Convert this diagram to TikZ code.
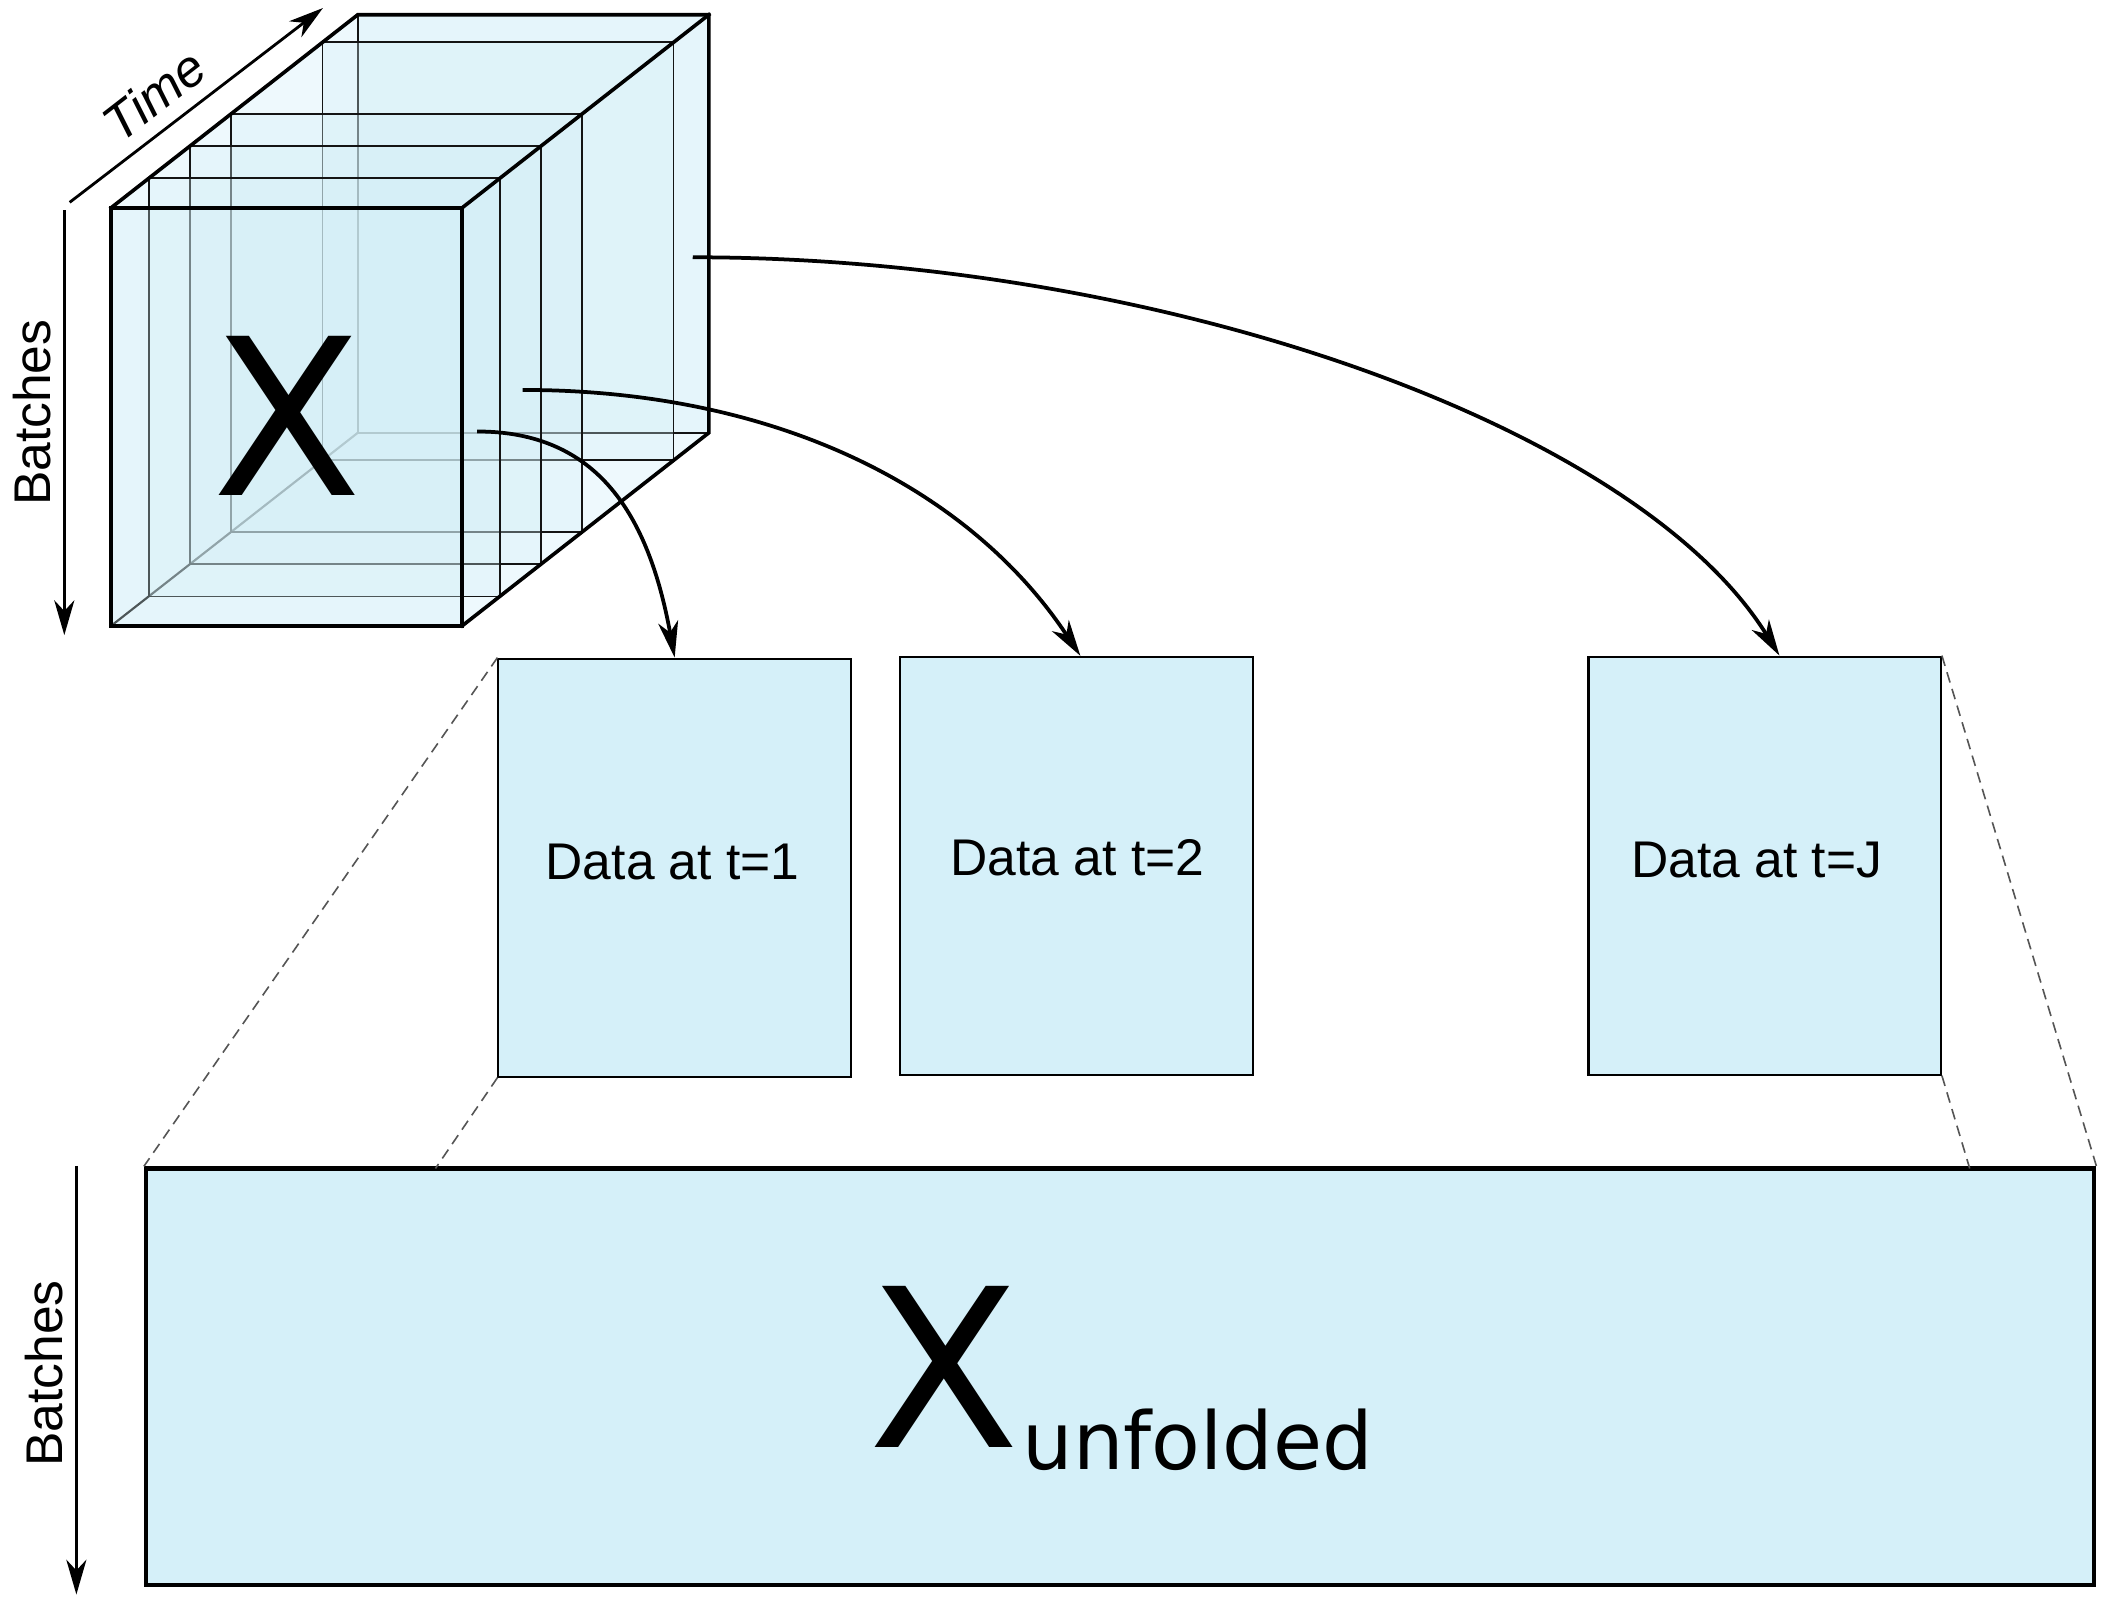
\documentclass[tikz,border=0pt]{standalone}
\usepackage{fontspec}
\setmainfont{Liberation Sans}
\newfontfamily\dejavu{DejaVu Sans}
\usetikzlibrary{arrows.meta}
\definecolor{boxblue}{RGB}{213,240,249}
\definecolor{hullblue}{RGB}{238,249,253}
\definecolor{layerblue}{RGB}{211,239,247}
\definecolor{dashgray}{RGB}{85,85,85}
\definecolor{edgedark}{RGB}{20,20,20}
\begin{document}
\begin{tikzpicture}[x=1pt,y=-1pt,
  lbl/.style={font=\fontsize{38.5}{46}\selectfont, inner sep=0pt},
  databox/.style={draw=black, line width=1.5pt, fill=boxblue, minimum width=263pt, minimum height=312pt, inner sep=0pt},
  bigbox/.style={draw=black, line width=3.2pt, fill=boxblue, minimum width=1454pt, minimum height=311pt, inner sep=0pt},
  outline/.style={line width=2.7pt, line join=miter, line cap=rect},
  thinedge/.style={draw=edgedark, line width=1.35pt},
  arr/.style={line width=2.8pt, -{Stealth[length=27pt,width=15pt,inset=8pt]}},
  axisarr/.style={line width=2.1pt, -{Stealth[length=26pt,width=15pt,inset=8pt]}},
  dashln/.style={draw=dashgray, line width=1.2pt, dash pattern=on 8pt off 5pt}
]
\useasboundingbox (0,0) rectangle (1568,1197.8);
\fill[white] (0,0) rectangle (1568,1197.8);

% cube corners
\coordinate (FTL) at (83,155);
\coordinate (FTR) at (345,155);
\coordinate (FBR) at (345,467);
\coordinate (FBL) at (83,467);
\coordinate (BTL) at (267,11);
\coordinate (BTR) at (529,11);
\coordinate (BBR) at (529,323);
\coordinate (BBL) at (267,323);

% hull
\fill[hullblue] (FBL) -- (FTL) -- (BTL) -- (BTR) -- (BBR) -- (FBR) -- cycle;
\draw[thinedge, line width=1.6pt] (FBL) -- (BBL);

% slices, back to front
\foreach \d in {1,0.857,0.487,0.32,0.152,0}{
  \fill[layerblue, fill opacity=0.3] ({83+184*\d},{155-144*\d}) rectangle ++(262,312);
  \draw[thinedge] ({83+184*\d},{155-144*\d}) rectangle ++(262,312);
}

% cube outline
\draw[outline] (FTL) rectangle (FBR);
\draw[outline] (FTL) -- (BTL) -- (BTR) -- (BBR) -- (FBR);
\draw[outline] (FTR) -- (BTR);

\node[font={\dejavu\fontsize{163}{170}\selectfont}, anchor=base, inner sep=0pt] (cubeX) at (214.5,370) {X};

% axis labels
\coordinate (t0) at (52,151);
\coordinate (t1) at (241,6);
\draw[axisarr] (t0) -- (t1);
\node[lbl, rotate=37.8] (tm) at (115,71) {\itshape Time};

\coordinate (ba0) at (48,157);
\coordinate (ba1) at (48,474);
\draw[axisarr] (ba0) -- (ba1);
\node[lbl, rotate=90] (bt1) at (24,308) {Batches};

\coordinate (bb0) at (57,870);
\coordinate (bb1) at (57,1190);
\draw[axisarr] (bb0) -- (bb1);
\node[lbl, rotate=90] (bt2) at (33,1025) {Batches};

% data boxes
\node[databox] (b1) at (503.5,647.5) {};
\node[databox] (b2) at (803.3,646.2) {};
\node[databox] (b3) at (1317,646) {};
\node[lbl, anchor=base] (d1) at (502,656) {Data at t=1};
\node[lbl, anchor=base] (d2) at (804,653.6) {Data at t=2};
\node[lbl, anchor=base] (d3) at (1311,655) {Data at t=J};

% big box
\node[bigbox] (big) at (836,1027.5) {};
\node[font={\dejavu\fontsize{165}{170}\selectfont}, anchor=base west, inner sep=0pt] (xu) at (648,1080)
  {X\kern2pt\raisebox{-17pt}{\fontsize{59.5}{62}\selectfont unfolded}};

% dashed guide lines
\coordinate (g1) at (325,872);
\coordinate (g2) at (1470,872);
\draw[dashln] (b1.north west) -- (big.north west);
\draw[dashln] (b1.south west) -- (g1);
\draw[dashln] (b3.north east) -- (big.north east);
\draw[dashln] (b3.south east) -- (g2);

% curved arrows
\coordinate (s1) at (356,322);
\coordinate (s2) at (390,291);
\coordinate (s3) at (517,192);
\draw[arr] (s1) .. controls (446,322) and (484,384) .. (b1.north);
\draw[arr] (s2) .. controls (580,291) and (724,365) .. ([xshift=3pt]b2.north);
\draw[arr] (s3) .. controls (867,192) and (1222,318) .. ([xshift=11pt]b3.north);
\end{tikzpicture}
\end{document}
